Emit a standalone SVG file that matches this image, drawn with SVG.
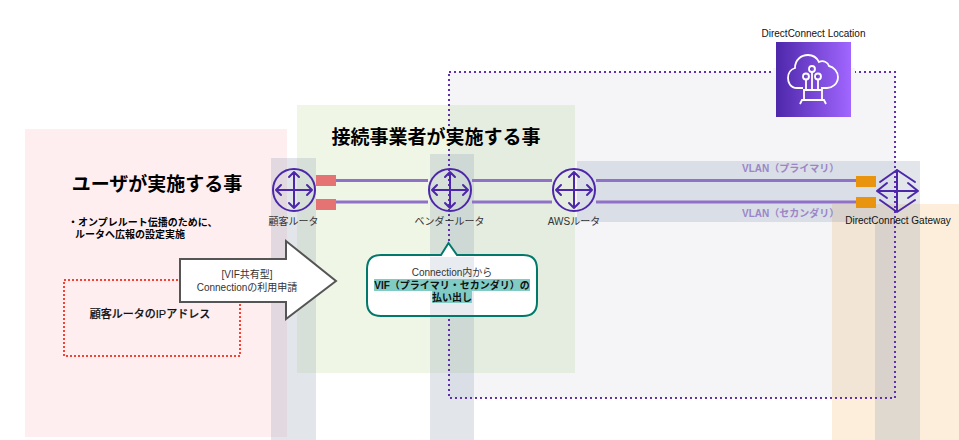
<svg xmlns="http://www.w3.org/2000/svg" width="959" height="440" viewBox="0 0 959 440">
<style>
text{font-family:"Liberation Sans","Noto Sans CJK JP",sans-serif;text-anchor:middle;fill:#333}
.k{fill:#000;font-weight:700}
.s{font-size:10px}
.band{fill:#8a9bb0;fill-opacity:.25}
.conn{stroke:#8f72c8;stroke-width:3;fill:none}
.ic{stroke:#4d27aa;stroke-width:2;fill:none}
.ar{stroke:#4d27aa;stroke-width:2;fill:none;stroke-linecap:round;stroke-linejoin:round}
.lab{fill:#9a86c6;font-weight:700;font-size:10px;text-anchor:start}
</style>
<defs>
<linearGradient id="g" x1="0" y1="0" x2="1" y2="0"><stop offset="0" stop-color="#4d27aa"/><stop offset="1" stop-color="#a166ff"/></linearGradient>
<g id="router"><circle r="21" class="ic"/><path class="ar" d="M-18 0H18M0-18V18M-13-5-18 0-13 5M13-5 18 0 13 5M-5-13 0-18 5-13M-5 13 0 18 5 13"/></g>
</defs>
<g id="areas">
<rect id="area-user" x="25" y="129" width="262" height="308" fill="#ffeef0"/>
<rect id="area-vendor" x="297" y="105" width="278" height="268" fill="#eff6e6"/>
<rect id="area-orange" x="832" y="204" width="127" height="236" fill="#fdeedb"/>
<rect id="area-location" x="449" y="72" width="446" height="326" fill="#5a5a8c" fill-opacity=".06"/>
<rect class="band" x="271" y="158" width="45" height="282"/>
<rect class="band" x="430" y="154" width="44" height="286"/>
<rect class="band" x="875" y="161" width="45" height="279"/>
<rect class="band" x="577" y="161" width="298" height="61"/>
</g>
<g id="connectors">
<path class="conn" d="M336 180.500H428M472 180.500H552M596 180.500H856M336 202H428M472 202H552M596 202H856"/>
</g>
<g id="location">
<rect x="449" y="72" width="446" height="326" fill="none" stroke="#5f2fb0" stroke-width="2" stroke-dasharray="2 3"/>
<rect x="773" y="68" width="82" height="8" fill="#f6f6fa"/>
<rect x="776" y="42" width="75" height="75" fill="url(#g)"/>
<g fill="none" stroke="#fff" stroke-width="1.800">
<path d="M803 88H797C790 88 788 82 788 78 788 72 792 69 795 68 795 60 801 55 808 55 813 55 817 58 819 62 823 60 828 62 829 66 834 67 838 72 838 77 838 84 832 88 827 88H821"/>
<path d="M806 80V90M812 72V90M818 80V90"/>
<circle cx="806" cy="76.500" r="3" fill="url(#g)"/><circle cx="812" cy="69" r="3" fill="url(#g)"/><circle cx="818" cy="76.500" r="3" fill="url(#g)"/>
<path d="M804 100V90H822V100M800 104 802 100H824L826 104"/>
</g>
<text class="s" x="813.500" y="37" style="fill:#111">DirectConnect Location</text>
</g>
<g id="router-customer">
<rect x="316" y="175" width="20" height="11" fill="#e57373"/><rect x="316" y="199" width="20" height="11" fill="#e57373"/>
<use href="#router" x="294" y="190"/>
<text class="s" x="293.500" y="225">顧客ルータ</text>
</g>
<g id="router-vendor">
<use href="#router" x="450" y="190"/>
<text class="s" x="449.500" y="225">ベンダールータ</text>
</g>
<g id="router-aws">
<use href="#router" x="574" y="190"/>
<text class="s" x="574" y="225">AWSルータ</text>
</g>
<g id="gateway">
<rect x="856" y="176" width="20" height="11" fill="#e8940f"/><rect x="856" y="197" width="20" height="11" fill="#e8940f"/>
<path class="ar" d="M877 191H918M887 183 877 191 887 198M908 183 918 191 908 198M897 170V212M880 182 897 170 915 182M880 200 897 212 915 200"/>
<text class="s" x="898" y="224" style="fill:#111">DirectConnect Gateway</text>
</g>
<g id="vlan-labels">
<text class="lab" x="742" y="172">VLAN（プライマリ）</text>
<text class="lab" x="742" y="217">VLAN（セカンダリ）</text>
</g>
<g id="user-text">
<text class="k" x="157" y="191" font-size="19">ユーザが実施する事</text>
<text class="k" font-size="10" x="68" y="226" style="text-anchor:start">・オンプレルート伝播のために、</text>
<text class="k" font-size="10" x="75" y="238" style="text-anchor:start">ルータへ広報の設定実施</text>
</g>
<text id="vendor-title" class="k" x="436" y="144" font-size="19">接続事業者が実施する事</text>
<g id="ip-box">
<rect x="64" y="280" width="176" height="76" fill="none" stroke="#f44336" stroke-width="2" stroke-dasharray="2 2"/>
<text x="150" y="318" font-size="11" style="fill:#111;font-weight:500;stroke:#111;stroke-width:.2">顧客ルータのIPアドレス</text>
</g>
<g id="request-arrow">
<path d="M180 259H286V241L336 281 286 319V302H180Z" fill="#fff" stroke="#555" stroke-width="2"/>
<text class="s" x="247" y="278">[VIF共有型]</text>
<text class="s" x="247" y="291">Connectionの利用申請</text>
</g>
<g id="callout">
<path d="M381 255H441L448.500 243 457 255H523Q537 255 537 269V302Q537 316 523 316H381Q367 316 367 302V269Q367 255 381 255Z" fill="#fff" stroke="#00796b" stroke-width="2"/>
<rect x="430" y="257" width="44" height="58" fill="#8a9bb0" fill-opacity=".2"/>
<rect x="374" y="279" width="156" height="12" fill="#80cbc4"/>
<rect x="432" y="291" width="40" height="12" fill="#80cbc4"/>
<text class="s" x="452" y="276">Connection内から</text>
<text class="s" x="452" y="288.500" style="font-weight:700;fill:#111">VIF（プライマリ・セカンダリ）の</text>
<text class="s" x="452" y="301" style="font-weight:700;fill:#111">払い出し</text>
</g>
</svg>
